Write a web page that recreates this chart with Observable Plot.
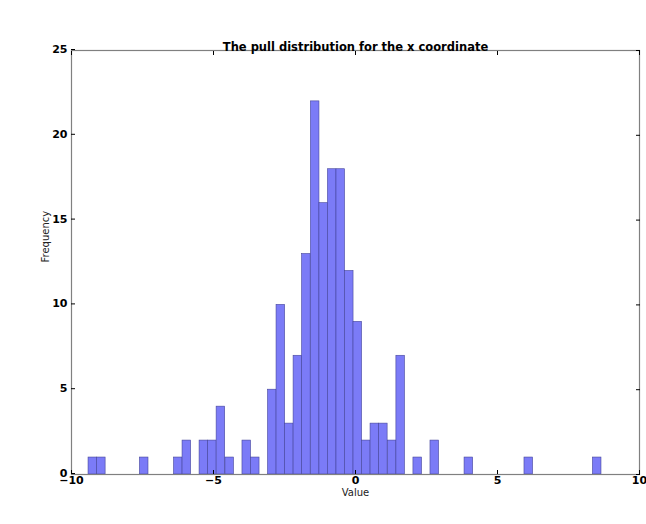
<!DOCTYPE html>
<html>
<head>
<meta charset="utf-8">
<script src="https://cdn.jsdelivr.net/npm/d3@7"></script>
<script src="https://cdn.jsdelivr.net/npm/@observablehq/plot@0.6"></script>
<style>
  html, body { margin: 0; padding: 0; background: #fff; }
  svg { font-family: "DejaVu Sans", sans-serif; }
</style>
</head>
<body>
<div id="chart"></div>
<script>
const title = "The pull distribution for the x coordinate";
const xLabel = "Value";
const yLabel = "Frequency";
const binWidth = 0.301;
// lower edges of the non-empty bins
const binStarts = [-9.40, -9.10, -7.59, -6.39, -6.09, -5.49, -5.19, -4.89, -4.58, -3.98, -3.68,
  -3.08, -2.78, -2.48, -2.18, -1.88, -1.57, -1.27, -0.97, -0.67, -0.37, -0.07,
  0.23, 0.53, 0.83, 1.14, 1.44, 2.04, 2.64, 3.84, 5.95, 8.36];
const counts = [1, 1, 1, 1, 2, 2, 2, 4, 1, 2, 1,
  5, 10, 3, 7, 13, 22, 16, 18, 18, 12, 9,
  2, 3, 3, 2, 7, 1, 2, 1, 1, 1];
const xTicks = [-10, -5, 0, 5, 10];
const yTicks = [0, 5, 10, 15, 20, 25];

const bins = binStarts.map((x0, i) => ({x0, x1: x0 + binWidth, count: counts[i]}));

const chart = Plot.plot({
  width: 646,
  height: 524,
  marginLeft: 71,
  marginRight: 7,
  marginTop: 50,
  marginBottom: 50,
  style: {fontFamily: "DejaVu Sans, sans-serif", background: "#fff"},
  x: {domain: [-10, 10]},
  y: {domain: [0, 25]},
  marks: [
    Plot.rectY(bins, {x1: "x0", x2: "x1", y: "count", fill: "#7b7bf7", stroke: "#45459a", strokeWidth: 0.6}),
    Plot.frame({stroke: "#808080", strokeWidth: 1.2}),
    Plot.axisX({ticks: xTicks, tickSize: -4, tickPadding: 6, fontSize: 11, fontWeight: "bold", fill: "#000", label: null, tickFormat: d => String(d).replace("-", "\u2212")}),
    Plot.axisX({ticks: xTicks, anchor: "top", tickSize: -4, tickFormat: () => "", label: null}),
    Plot.axisY({ticks: yTicks, tickSize: -4, tickPadding: 8, dy: -1, fontSize: 11, fontWeight: "bold", fill: "#000", label: null}),
    Plot.axisY({ticks: yTicks, anchor: "right", tickSize: -4, tickFormat: () => "", label: null}),
    Plot.text([title], {frameAnchor: "top", dy: -8, fontSize: 11.5, fontWeight: "bold", fill: "#000"}),
    Plot.text([xLabel], {frameAnchor: "bottom", dy: 21, fontSize: 10, fill: "#222"}),
    Plot.text([yLabel], {frameAnchor: "left", dx: -26, rotate: -90, fontSize: 10, fill: "#222"})
  ]
});
document.getElementById("chart").appendChild(chart);
</script>
</body>
</html>
